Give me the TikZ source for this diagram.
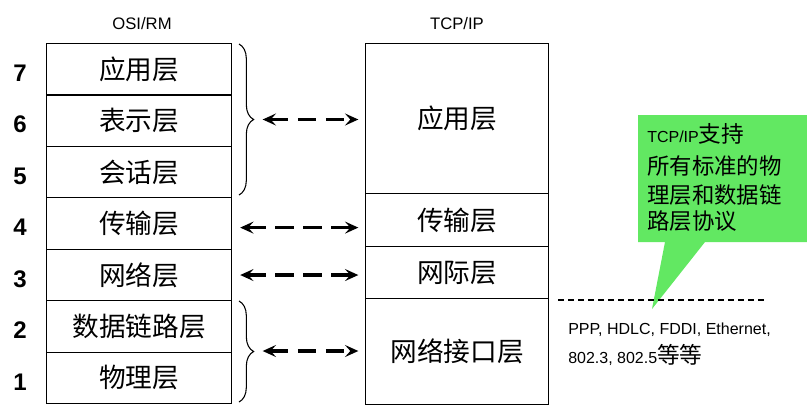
\documentclass[tikz,border=0pt]{standalone}
\usepackage{fontspec}
\setmainfont{Liberation Sans}
\newfontfamily\cjk{Noto Sans CJK SC}
\usetikzlibrary{arrows.meta,decorations.pathreplacing}
\definecolor{callgreen}{RGB}{98,232,98}
\tikzset{
  layer/.style={draw, line width=0.9pt, anchor=north west, inner sep=0pt,
    font=\cjk\fontsize{20}{24}\selectfont},
  osib/.style={layer, minimum width=138.75pt, minimum height=38.57pt},
  tcpb/.style={layer, minimum width=137.25pt},
  num/.style={font=\bfseries\fontsize{18}{20}\selectfont},
  title/.style={font=\fontsize{12.5}{14}\selectfont},
  dbl/.style={line width=2.4pt, dash pattern=on 14pt off 7pt,
    {Stealth[length=10pt,width=9pt,inset=4pt]}-{Stealth[length=10pt,width=9pt,inset=4pt]}},
  brc/.style={decorate, line width=0.8pt, decoration={brace, amplitude=11pt, aspect=0.5}},
  cl/.style={anchor=west, inner sep=0pt, font=\cjk\fontsize{16.8}{20}\selectfont},
  small/.style={anchor=west, inner sep=0pt, font=\fontsize{12}{14}\selectfont}
}
\begin{document}
\begin{tikzpicture}[x=0.75pt,y=-0.75pt]
\useasboundingbox (0,0) rectangle (807,408);
% titles
\node[title] (tosi) at (142,24) {OSI/RM};
\node[title] (ttcp) at (457,24) {TCP/IP};
% OSI layers
\node[osib] (o7) at (46,43) {应用层};
\node[osib] (o6) at (46,94.43) {表示层};
\node[osib] (o5) at (46,145.86) {会话层};
\node[osib] (o4) at (46,197.29) {传输层};
\node[osib] (o3) at (46,248.71) {网络层};
\node[osib] (o2) at (46,300.14) {数据链路层};
\node[osib] (o1) at (46,351.57) {物理层};
% numbers
\node[num] (n7) at (20,73) {7};
\node[num] (n6) at (20,124.5) {6};
\node[num] (n5) at (20,176) {5};
\node[num] (n4) at (20,227.5) {4};
\node[num] (n3) at (20,279) {3};
\node[num] (n2) at (20,330.5) {2};
\node[num] (n1) at (20,382) {1};
% TCP/IP layers
\node[tcpb, minimum height=112.5pt] (t1) at (365,43) {应用层};
\node[tcpb, minimum height=39.75pt] (t2) at (365,193) {传输层};
\node[tcpb, minimum height=39pt] (t3) at (365,246) {网际层};
\node[tcpb, minimum height=79.5pt] (t4) at (365,298) {网络接口层};
% braces
\draw[brc] (239,44) -- (239,195);
\draw[brc] (239,301) -- (239,402);
\coordinate (b1) at (256,119.5);
\coordinate (b2) at (256,351);
% arrows
\draw[dbl, shorten <=5pt, shorten >=5pt] (b1) -- (b1 -| t1.west);
\draw[dbl, shorten <=6pt, shorten >=5pt] ([yshift=-3pt]o4.east) -- ([yshift=-3pt]o4.east -| t2.west);
\draw[dbl, shorten <=6pt, shorten >=5pt] (o3.east) -- (o3.east -| t3.west);
\draw[dbl, shorten <=5pt, shorten >=5pt] (b2) -- (b2 -| t4.west);
% callout
\fill[callgreen] (638,115) -- (807,115) -- (807,242) -- (705,242) -- (652,309) -- (665,242) -- (638,242) -- cycle;
\node[anchor=west, inner sep=0pt] (c1) at (647,134) {\fontsize{12}{14}\selectfont TCP/IP{\cjk\fontsize{17}{20}\selectfont 支持}};
\node[cl] (c2) at (647,166) {所有标准的物};
\node[cl] (c3) at (647,195) {理层和数据链};
\node[cl] (c4) at (647,221) {路层协议};
% dashed line
\coordinate (d1) at (558,300);
\coordinate (d2) at (767,300);
\draw[line width=0.8pt, dash pattern=on 4.5pt off 3pt] (d1) -- (d2);
% protocols
\node[small] (p1) at (568,330) {PPP, HDLC, FDDI, Ethernet,};
\node[small] (p2) at (568,355) {802.3, 802.5{\cjk\fontsize{17}{20}\selectfont 等等}};
\end{tikzpicture}
\end{document}
